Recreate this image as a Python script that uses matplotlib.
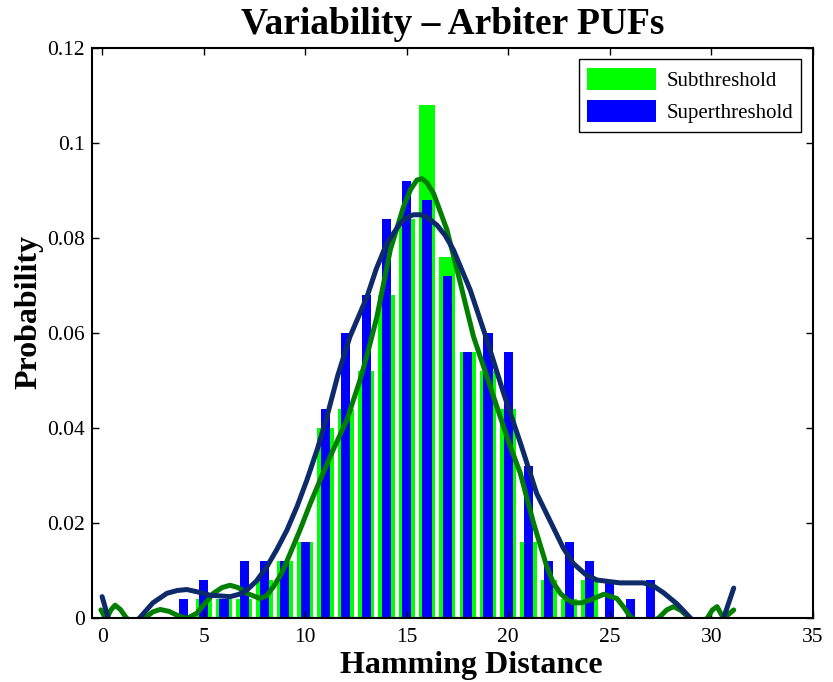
import numpy as np
import matplotlib
matplotlib.use('Agg')
import matplotlib.pyplot as plt

plt.rcParams['font.family'] = ['Liberation Serif', 'DejaVu Serif']

# histogram of hamming distances (probability per bin)
hd = np.arange(4, 28)
sub_prob = [0.000, 0.004, 0.004, 0.004, 0.008, 0.012, 0.016, 0.040, 0.044, 0.052,
            0.068, 0.084, 0.108, 0.076, 0.056, 0.052, 0.044, 0.016, 0.008, 0.004,
            0.008, 0.000, 0.000, 0.000]
sup_prob = [0.004, 0.008, 0.004, 0.012, 0.012, 0.012, 0.016, 0.044, 0.060, 0.068,
            0.084, 0.092, 0.088, 0.072, 0.056, 0.060, 0.056, 0.032, 0.012, 0.016,
            0.012, 0.008, 0.004, 0.008]

# smoothed density curves
sub_x = [-0.06, 0.2, 0.45, 0.64, 0.9, 1.2, 1.6, 1.96, 2.2, 2.5, 2.86, 3.3, 3.68, 4.17,
         4.66, 5.05, 5.48, 5.9, 6.3, 6.7, 7.13, 7.78, 8.1, 8.44, 8.85, 9.26, 9.75,
         10.25, 10.75, 11.23, 12.05, 12.7, 13.1, 13.53, 14.19, 14.84, 15.2, 15.5,
         15.75, 16.0, 16.32, 16.98, 17.64, 18.29, 18.95, 19.6, 20.1, 20.59, 21.25,
         21.9, 22.2, 22.56, 22.9, 23.2, 23.6, 24.04, 24.7, 25.35, 25.7, 26.0, 26.7,
         27.4, 27.8, 28.14, 28.5, 28.9, 29.35, 29.8, 30.05, 30.28, 30.6, 31.1]
sub_y = [0.0017, -0.0002, 0.0018, 0.0027, 0.0018, 0.0000, -0.0012, 0.0000, 0.0003,
         0.0013, 0.0018, 0.0014, 0.0006, -0.0001, 0.0010, 0.0030, 0.0052, 0.0064,
         0.0069, 0.0064, 0.0052, 0.0041, 0.0047, 0.0066, 0.0095, 0.0136, 0.0186,
         0.0241, 0.0292, 0.0340, 0.0417, 0.0501, 0.0562, 0.0634, 0.0775, 0.0866,
         0.0903, 0.0922, 0.0925, 0.0916, 0.0894, 0.0817, 0.0705, 0.0592, 0.0508,
         0.0424, 0.0361, 0.0305, 0.0199, 0.0108, 0.0076, 0.0052, 0.0039, 0.0032,
         0.0032, 0.0038, 0.0050, 0.0041, 0.0022, 0.0003, -0.0015, 0.0000, 0.0017,
         0.0024, 0.0016, 0.0000, -0.0012, 0.0000, 0.0017, 0.0024, -0.0001, 0.0017]

sup_x = [0.0, 0.3, 1.0, 1.84, 2.5, 3.19, 3.7, 4.17, 4.7, 5.32, 6.3, 6.75, 7.13, 7.6,
         8.11, 8.6, 9.1, 9.6, 10.08, 10.6, 11.07, 11.6, 12.2, 13.04, 13.5, 14.02,
         14.68, 15.0, 15.33, 15.67, 16.0, 16.49, 16.9, 17.3, 18.13, 18.95, 19.77,
         20.6, 21.4, 22.2, 22.7, 23.2, 23.8, 24.37, 25.5, 26.67, 27.2, 27.65, 28.3,
         28.97, 29.8, 30.6, 31.1]
sup_y = [0.0045, 0.0000, -0.0030, 0.0000, 0.0032, 0.0052, 0.0058, 0.0060, 0.0055,
         0.0048, 0.0045, 0.0050, 0.0059, 0.0078, 0.0108, 0.0144, 0.0185, 0.0235,
         0.0290, 0.0356, 0.0424, 0.0510, 0.0592, 0.0676, 0.0735, 0.0789, 0.0831,
         0.0843, 0.0849, 0.0849, 0.0844, 0.0827, 0.0805, 0.0775, 0.0690, 0.0585,
         0.0473, 0.0368, 0.0262, 0.0192, 0.0148, 0.0115, 0.0092, 0.0080, 0.0074,
         0.0074, 0.0066, 0.0053, 0.0030, 0.0000, -0.0040, 0.0000, 0.0063]

yticks = [0, 0.02, 0.04, 0.06, 0.08, 0.1, 0.12]
ytick_labels = ['0', '0.02', '0.04', '0.06', '0.08', '0.1', '0.12']
xticks = [0, 5, 10, 15, 20, 25, 30, 35]

fig = plt.figure(figsize=(8.33, 6.82), dpi=100)
ax = fig.add_axes([0.1104, 0.0938, 0.8655, 0.8358])

ax.bar(hd, sub_prob, width=0.8, color='#00ff00', label='Subthreshold')
ax.bar(hd, sup_prob, width=0.45, color='#0000ff', label='Superthreshold')
ax.plot(sub_x, sub_y, color='#007f00', lw=3.6, solid_capstyle='round', solid_joinstyle='round')
ax.plot(sup_x, sup_y, color='#0d2a6a', lw=3.6, solid_capstyle='round', solid_joinstyle='round')

ax.set_xlim(-0.5, 35)
ax.set_ylim(0, 0.12)
ax.set_xticks(xticks)
ax.set_xticklabels([str(t) for t in xticks])
ax.set_yticks(yticks)
ax.set_yticklabels(ytick_labels)
ax.tick_params(direction='in', top=True, right=True, labelsize=15.5, length=5, width=1)
ax.tick_params(axis='x', pad=7.5)
ax.tick_params(axis='y', pad=5)
for s in ax.spines.values():
    s.set_linewidth(1.5)

ax.set_title('Variability – Arbiter PUFs', fontsize=27, fontweight='bold', pad=10)
ax.set_xlabel('Hamming Distance', fontsize=23, fontweight='bold')
ax.set_ylabel('Probability', fontsize=23, fontweight='bold')
ax.xaxis.set_label_coords(0.526, -0.058)
ax.yaxis.set_label_coords(-0.067, 0.537)

leg = ax.legend(loc='upper right', fontsize=15, handlelength=3.3, handleheight=1.25,
                handletextpad=0.5, fancybox=False, framealpha=1, edgecolor='black',
                borderaxespad=0.55, borderpad=0.4, labelspacing=0.45)
leg.get_frame().set_linewidth(1)

fig.savefig('out.png', dpi=100)
